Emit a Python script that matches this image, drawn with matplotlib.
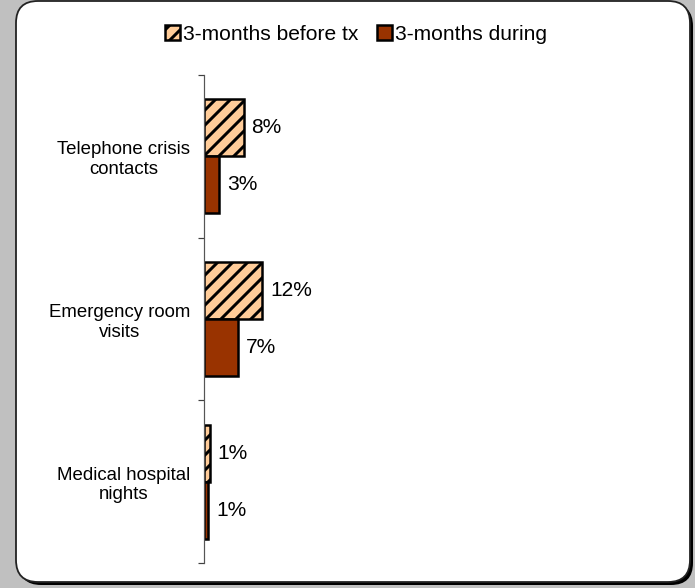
import numpy as np
import matplotlib
matplotlib.use('Agg')
import matplotlib.pyplot as plt
from matplotlib.patches import FancyBboxPatch

DPI = 90
PX = 72 / DPI  # points per pixel

plt.rcParams['font.family'] = ['Liberation Sans', 'DejaVu Sans']
plt.rcParams['hatch.linewidth'] = 3 * PX
plt.rcParams['hatch.color'] = 'black'

categories = ['Telephone crisis\ncontacts', 'Emergency room\nvisits', 'Medical hospital\nnights']
series_names = ['3-months before tx', '3-months during']
before_tx = [8.2, 12.0, 1.2]
during_tx = [3.1, 7.1, 0.9]
colors = ['#FFCC99', '#993300']

# dpi chosen so the hatch spacing matches the reference
fig = plt.figure(figsize=(695 / DPI, 588 / DPI), dpi=DPI, facecolor='#C0C0C0')

# rounded white panel with a dark shadow (pixel coords)
shadow = FancyBboxPatch((19, 3), 674, 581, boxstyle='round,pad=0,rounding_size=22',
                        transform=None, facecolor='black', edgecolor='none', zorder=-2)
panel = FancyBboxPatch((16, 6), 674, 581, boxstyle='round,pad=0,rounding_size=22',
                       transform=None, facecolor='white', edgecolor='#222222',
                       linewidth=1.8 * PX, zorder=-1)
fig.patches.extend([shadow, panel])

ax = fig.add_axes([204 / 695, 1 - 563 / 588, 483 / 695, 488 / 588])
ax.set_facecolor('none')

y = np.arange(len(categories))
h = 0.35
b1 = ax.barh(y - h / 2, before_tx, height=h, color=colors[0], edgecolor='black',
             linewidth=2.5 * PX, hatch='//', label=series_names[0])
b2 = ax.barh(y + h / 2, during_tx, height=h, color=colors[1], edgecolor='black',
             linewidth=2.5 * PX, label=series_names[1])

for bars, vals in [(b1, before_tx), (b2, during_tx)]:
    for bar, v in zip(bars, vals):
        ax.annotate('%d%%' % round(v), (bar.get_width(), bar.get_y() + bar.get_height() / 2),
                    xytext=(8 * PX, 0), textcoords='offset points', va='center', ha='left',
                    fontsize=21 * PX)

ax.set_xlim(0, 100)
ax.set_ylim(2.5, -0.5)
ax.set_yticks(y)
ax.set_yticklabels(categories, fontsize=18.6 * PX)
for lab in ax.get_yticklabels():
    lab.set_multialignment('center')
ax.set_yticks([-0.5, 0.5, 1.5, 2.5], minor=True)
ax.tick_params(axis='y', which='major', length=0, pad=14 * PX)
ax.tick_params(axis='y', which='minor', length=6 * PX, width=1.2 * PX, color='#404040',
               direction='out')
ax.set_xticks([])
for s in ['top', 'right', 'bottom']:
    ax.spines[s].set_visible(False)
ax.spines['left'].set_color('#555555')
ax.spines['left'].set_linewidth(1.2 * PX)

fig.legend(handles=[b1, b2], loc='center', bbox_to_anchor=(356 / 695, 1 - 34 / 588),
           ncol=2, frameon=False, fontsize=21 * PX, handlelength=0.7, handleheight=0.7,
           handletextpad=0.15, columnspacing=0.9, borderpad=0)

fig.savefig('out.png', dpi=DPI, facecolor=fig.get_facecolor())
